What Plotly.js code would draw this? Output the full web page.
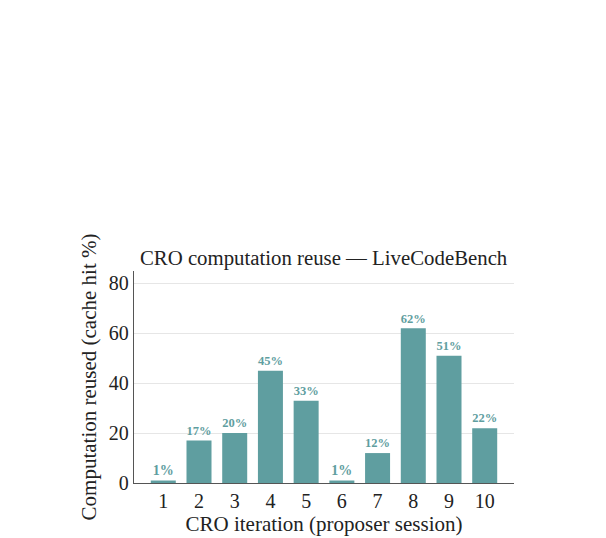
<!DOCTYPE html>
<html>
<head>
<meta charset="utf-8">
<script src="https://cdn.plot.ly/plotly-3.0.1.min.js"></script>
<style>
  html, body { margin: 0; padding: 0; background: #ffffff; }
  #chart { width: 606px; height: 538px; }
</style>
</head>
<body>
<div id="chart"></div>
<script>
// CRO iterations and their cache-hit share (%)
const iterations = [1, 2, 3, 4, 5, 6, 7, 8, 9, 10];
const reusePct = [1, 17, 20, 45, 33, 1, 12, 62, 51, 22];
const yTicks = [0, 20, 40, 60, 80];

const barColor = '#5f9ea0';
const serif = '"Liberation Serif", "DejaVu Serif", serif';

const trace = {
  type: 'bar',
  x: iterations,
  y: reusePct,
  width: 0.7,
  marker: { color: barColor, line: { width: 0 } },
  text: reusePct.map(v => '<b>' + v + '%</b>'),
  textposition: 'outside',
  cliponaxis: false,
  textfont: { family: serif, size: 14, color: barColor },
  hoverinfo: 'skip'
};

const layout = {
  width: 606,
  height: 538,
  paper_bgcolor: '#ffffff',
  plot_bgcolor: '#ffffff',
  margin: { l: 134, r: 92, t: 271, b: 55 },
  showlegend: false,
  font: { family: serif, color: '#222222' },
  title: {
    text: 'CRO computation reuse — LiveCodeBench',
    font: { family: serif, size: 20.8, color: '#222222' },
    x: 0.534, xanchor: 'center',
    y: 1 - 258 / 538, yanchor: 'middle'
  },
  xaxis: {
    range: [0.18, 10.82],
    tickmode: 'array',
    tickvals: iterations,
    ticktext: iterations.map(String),
    ticks: '',
    showgrid: false,
    zeroline: false,
    showline: true,
    linecolor: '#555555',
    linewidth: 1.2,
    tickfont: { family: serif, size: 20, color: '#222222' },
    title: {
      text: 'CRO iteration (proposer session)',
      font: { family: serif, size: 21, color: '#222222' },
      standoff: 2
    }
  },
  yaxis: {
    range: [0, 85],
    tickmode: 'array',
    tickvals: yTicks,
    ticktext: yTicks.map(String),
    ticks: '',
    ticklen: 0,
    showgrid: true,
    gridcolor: '#e6e6e6',
    gridwidth: 1,
    zeroline: false,
    showline: true,
    linecolor: '#555555',
    linewidth: 1.2,
    tickfont: { family: serif, size: 20, color: '#222222' },
    title: {
      text: 'Computation reused (cache hit %)',
      font: { family: serif, size: 21, color: '#222222' },
      standoff: 6
    }
  },
  bargap: 0.3
};

Plotly.newPlot('chart', [trace], layout, { displayModeBar: false, staticPlot: true });
</script>
</body>
</html>
